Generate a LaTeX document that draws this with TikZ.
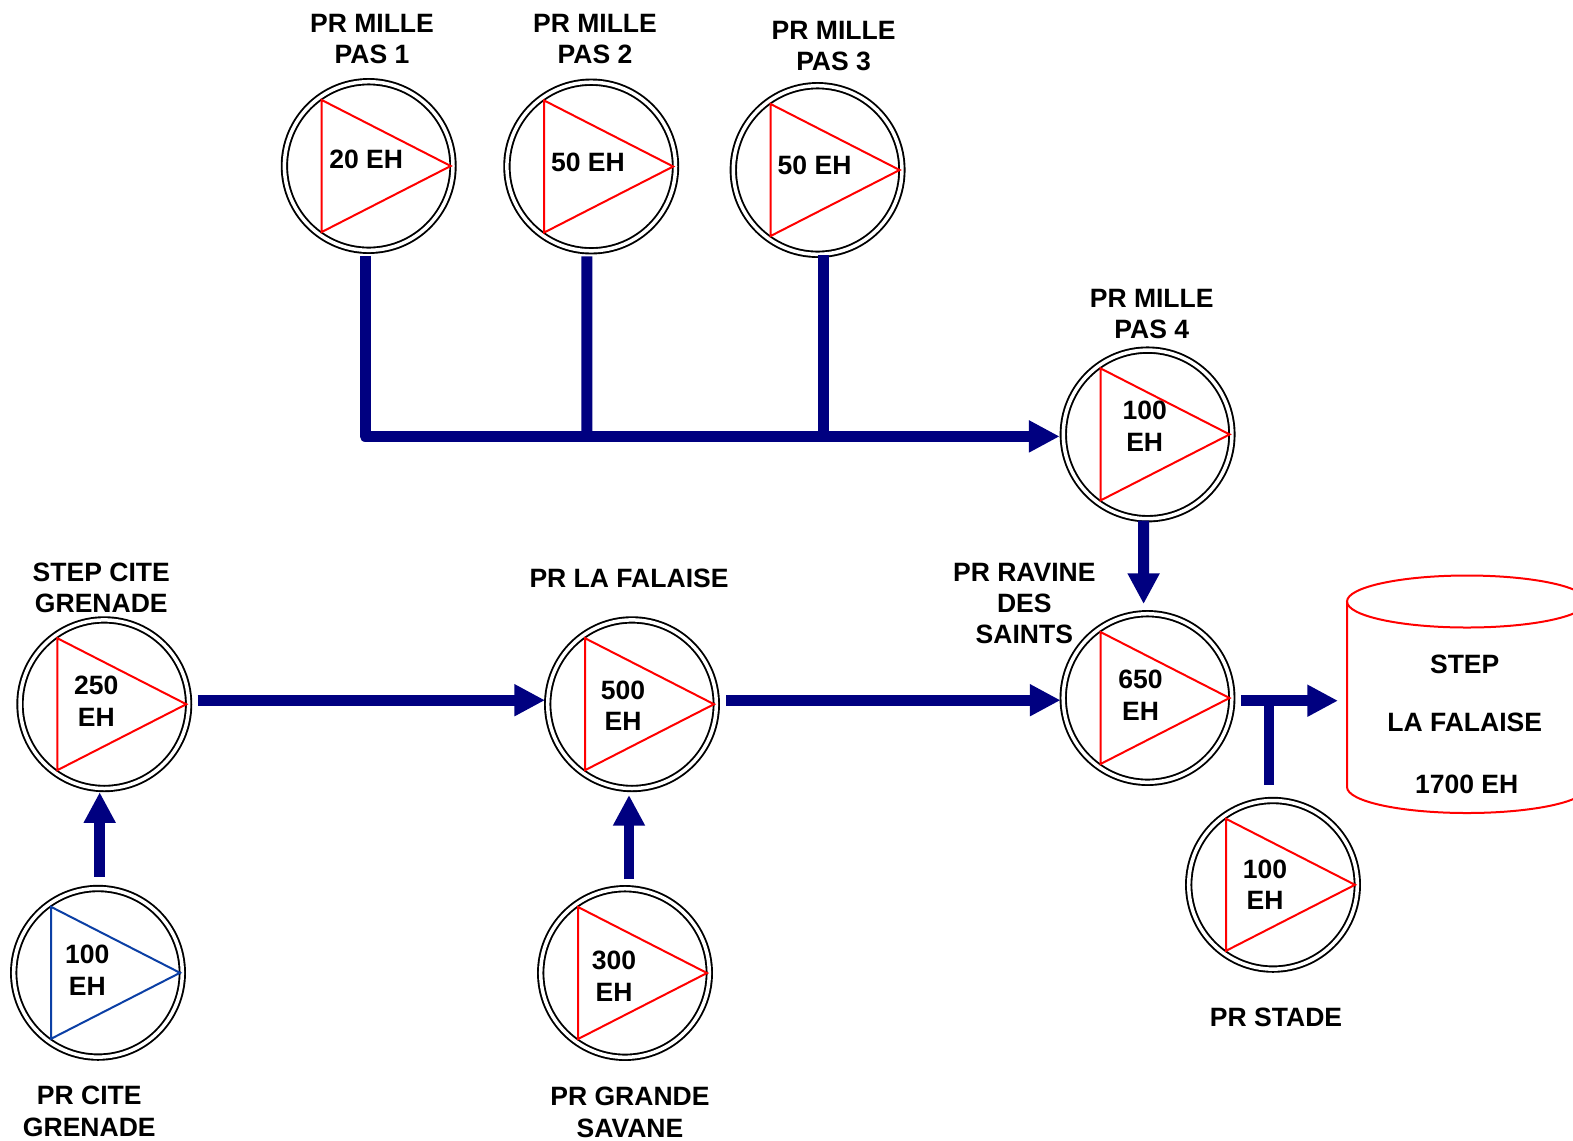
\documentclass[tikz,border=0pt]{standalone}
\usepackage{fontspec}
\setmainfont{Liberation Sans}
\usetikzlibrary{arrows.meta}
\newlength\upx \setlength\upx{0.75pt}
\definecolor{pipenavy}{HTML}{000080}
\definecolor{pumpblue}{HTML}{0B3FA5}
\tikzset{
  pumpring/.style={circle,draw=black,line width=1.9\upx,double=white,double distance=3.5\upx,minimum size=168.6\upx,inner sep=0pt,outer sep=3.65\upx},
  pumptri/.style={line width=2\upx,line join=miter},
  lbl/.style={font=\fontsize{19.9pt}{23.4pt}\selectfont\bfseries,align=center,inner sep=0pt,text=black},
  pipe/.style={draw=pipenavy,line width=8.2pt,line join=round},
  flow/.style={pipe,-{Triangle[width=22.5pt,length=23pt]}},
  tank/.style={draw=red,line width=2\upx}
}
\newcommand{\pumpat}[4]{%
  \node[pumpring] (#1) at (#2,#3) {};
  \draw[pumptri,draw=#4,shift={(#2,#3)}] (-47,-66) -- (82,0) -- (-47,66) -- cycle;
}
\begin{document}
\begin{tikzpicture}[x=0.75pt,y=-0.75pt]
\clip (0,0) rectangle (1573,1140);
\fill[white] (0,0) rectangle (1573,1140);
% pumps
\pumpat{pa}{368.7}{166}{red}
\pumpat{pb}{591.2}{166.5}{red}
\pumpat{pc}{817.6}{170}{red}
\pumpat{pd}{1147.6}{434.4}{red}
\pumpat{rav}{1147.5}{698}{red}
\pumpat{fal}{632}{704.2}{red}
\pumpat{cit}{104.3}{704.2}{red}
\pumpat{pcg}{98}{972.8}{pumpblue}
\pumpat{sav}{625}{973}{red}
\pumpat{sta}{1273}{884.8}{red}
% tank
\draw[tank] (1347,601.5) -- (1347,787) arc[start angle=180,end angle=360,x radius=120,y radius=-26] (1587,787) -- (1587,601.5);
\draw[tank] (1467,601.5) ellipse[x radius=120,y radius=26];
\coordinate (tankin) at (1347,700.7);
% bus
\coordinate (busa) at (365.2,436.4);
\coordinate (busb) at (586.9,436.4);
\coordinate (busc) at (823.1,436.4);
\coordinate (tee) at (1269,700.7);
\draw[pipe,shorten <=2\upx] ([xshift=-4.3\upx]pb.south) -- (busb);
\draw[pipe,shorten <=-2.5\upx] ([xshift=5.5\upx]pc.south) -- (busc);
\draw[flow,shorten <=2\upx] ([xshift=-3.5\upx]pa.south) -- (busa) -- ([yshift=-2\upx]pd.west);
\draw[flow,shorten <=-1.7\upx,shorten >=6\upx] ([xshift=-4\upx]pd.south) -- ([xshift=-3.9\upx]rav.north);
\draw[flow,shorten <=5.3\upx,shorten >=-1\upx] ([yshift=4\upx]cit.east) -- ([yshift=4\upx]fal.west);
\draw[flow,shorten <=6.3\upx,shorten >=-1\upx] ([yshift=4\upx]fal.east) -- ([yshift=-2.2\upx]rav.west);
\draw[flow,shorten >=9\upx] ([shift={(5.5\upx,-2.7\upx)}]rav.east) -- (tankin);
\draw[pipe,shorten <=12\upx] ([xshift=-4\upx]sta.north) -- (tee);
\draw[flow,shorten <=8.3\upx] ([xshift=1.7\upx]pcg.north) -- ([xshift=-4.6\upx]cit.south);
\draw[flow,shorten <=5.7\upx,shorten >=2.8\upx] ([xshift=4\upx]sav.north) -- ([xshift=-3\upx]fal.south);
% labels
\node[lbl] (ta) at (372,39.3) {PR MILLE\\PAS 1};
\node[lbl] (tb) at (595,39.3) {PR MILLE\\PAS 2};
\node[lbl] (tc) at (833.6,46.2) {PR MILLE\\PAS 3};
\node[lbl] (td) at (1151.7,314.3) {PR MILLE\\PAS 4};
\node[lbl] (tcit) at (101.3,587.8) {STEP CITE\\GRENADE};
\node[lbl] (tfal) at (629,578.3) {PR LA FALAISE};
\node[lbl] (trav) at (1024.3,603.3) {PR RAVINE\\DES\\SAINTS};
\node[lbl] (tpcg) at (89.3,1111.3) {PR CITE\\GRENADE};
\node[lbl] (tsav) at (630,1112.3) {PR GRANDE\\SAVANE};
\node[lbl] (tsta) at (1276,1017.3) {PR STADE};
\node[lbl] (ia) at (366.2,159.3) {20 EH};
\node[lbl] (ib) at (587.9,162.4) {50 EH};
\node[lbl] (ic) at (814.6,165.4) {50 EH};
\node[lbl] (id) at (1144.7,426.3) {100\\EH};
\node[lbl] (irav) at (1140.6,695.3) {650\\EH};
\node[lbl] (icit) at (96.3,701.2) {250\\EH};
\node[lbl] (ifal) at (623,706) {500\\EH};
\node[lbl] (ipcg) at (87.3,970.3) {100\\EH};
\node[lbl] (isav) at (614,976.3) {300\\EH};
\node[lbl] (ista) at (1265,884.8) {100\\EH};
\node[lbl] (s1) at (1464.7,664.3) {STEP};
\node[lbl] (s2) at (1464.7,722.3) {LA FALAISE};
\node[lbl] (s3) at (1466.7,784.3) {1700 EH};
\end{tikzpicture}
\end{document}
